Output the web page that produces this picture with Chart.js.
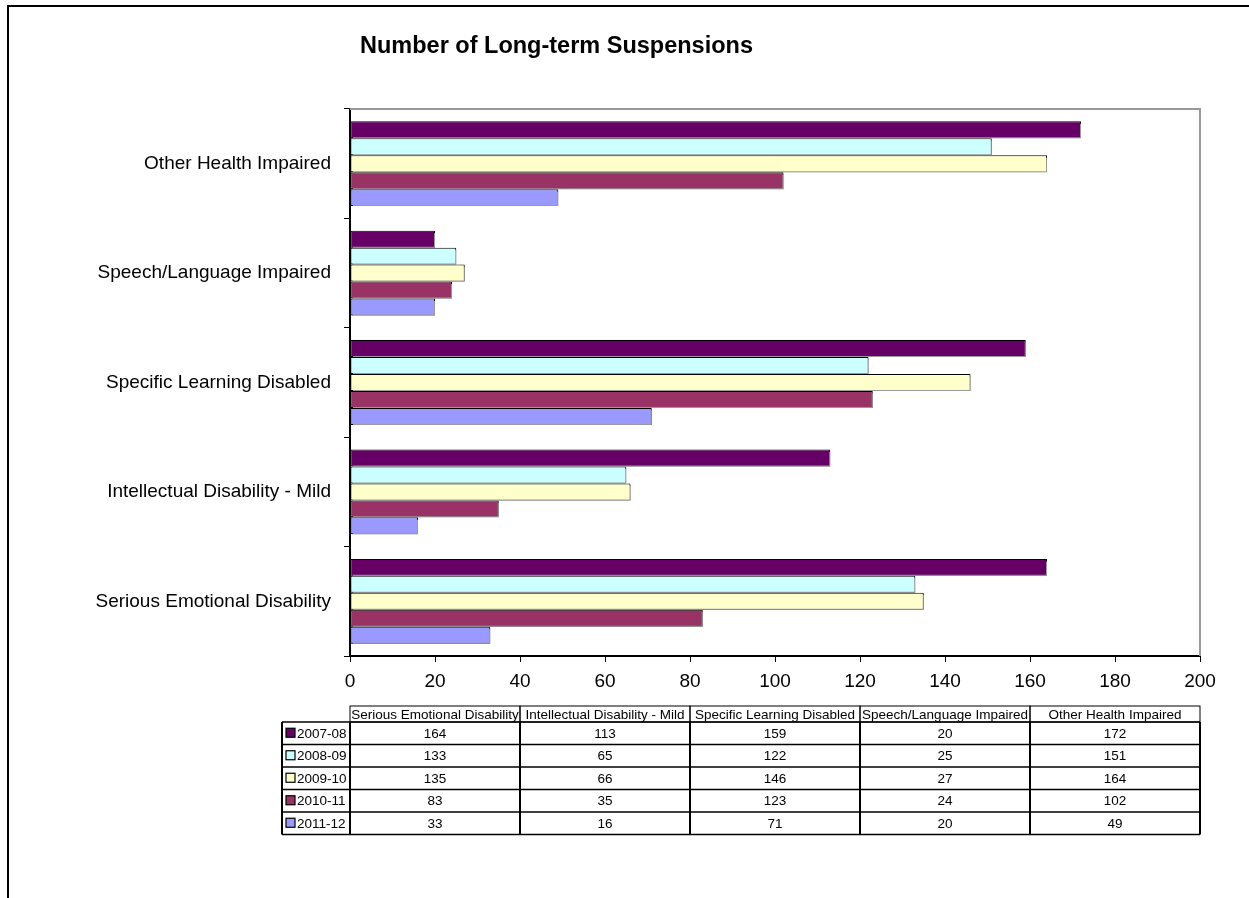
<!DOCTYPE html>
<html>
<head>
<meta charset="utf-8">
<script src="https://cdn.jsdelivr.net/npm/chart.js@4"></script>
<style>
  html, body { margin: 0; padding: 0; background: #fff; }
  #wrap { position: relative; width: 1249px; height: 898px; overflow: hidden; }
</style>
</head>
<body>
<div id="wrap"><canvas id="chart" width="1249" height="898"></canvas></div>
<script>
const chartTitle = "Number of Long-term Suspensions";
const categories = ["Serious Emotional Disability", "Intellectual Disability - Mild", "Specific Learning Disabled", "Speech/Language Impaired", "Other Health Impaired"];
const years = ["2007-08", "2008-09", "2009-10", "2010-11", "2011-12"];
const colors = ["#660066", "#CCFFFF", "#FFFFCC", "#993366", "#9999FF"];

const v2007 = [164, 113, 159, 20, 172];
const v2008 = [133, 65, 122, 25, 151];
const v2009 = [135, 66, 146, 27, 164];
const v2010 = [83, 35, 123, 24, 102];
const v2011 = [33, 16, 71, 20, 49];
const series = [v2007, v2008, v2009, v2010, v2011];

const xTicks = [0, 20, 40, 60, 80, 100, 120, 140, 160, 180, 200];

const FONT = "'Liberation Sans', Arial, sans-serif";

// frame, title, plot border and data table
const extras = {
    id: "extras",
    beforeDraw(chart) {
        const c = chart.ctx;
        c.save();
        c.strokeStyle = "#000";
        c.lineWidth = 2;
        c.beginPath();
        c.moveTo(8, 900);
        c.lineTo(8, 6);
        c.lineTo(1260, 6);
        c.stroke();
        c.restore();
    },
    // little gray drop shadow under the bars, like the original
    beforeDatasetsDraw(chart) {
        const c = chart.ctx;
        c.save();
        c.shadowColor = "#999";
        c.shadowOffsetX = 1.5;
        c.shadowOffsetY = 1.5;
        c.shadowBlur = 0;
    },
    afterDatasetsDraw(chart) {
        chart.ctx.restore();
    },
    afterDraw(chart) {
        const c = chart.ctx;
        const a = chart.chartArea;
        c.save();

        // title
        c.fillStyle = "#000";
        c.font = "bold 23.5px " + FONT;
        c.textAlign = "left";
        c.textBaseline = "middle";
        c.fillText(chartTitle, a.left + 10, 47);

        // gray top/right plot border
        c.strokeStyle = "#999";
        c.lineWidth = 2;
        c.beginPath();
        c.moveTo(a.left, a.top);
        c.lineTo(a.right, a.top);
        c.lineTo(a.right, a.bottom);
        c.stroke();

        // data table
        const colW = (a.right - a.left) / categories.length;
        const firstX = 282;
        const headTop = 706, headBot = 722;
        const rowH = 22.5;
        const tblBot = headBot + rowH * years.length;

        c.font = "13.5px " + FONT;
        c.textAlign = "center";
        c.textBaseline = "middle";
        c.strokeStyle = "#000";

        // header cells
        c.lineWidth = 1;
        for (let i = 0; i < categories.length; i++) {
            const x = a.left + i * colW;
            c.strokeRect(x, headTop, colW, headBot - headTop);
            c.fillText(categories[i], x + colW / 2, (headTop + headBot) / 2 + 1);
        }

        // row lines
        c.lineWidth = 1.5;
        for (let r = 0; r <= years.length; r++) {
            const y = headBot + r * rowH;
            c.beginPath();
            c.moveTo(firstX, y);
            c.lineTo(a.right, y);
            c.stroke();
        }
        // column lines
        c.lineWidth = 2;
        const vx = [firstX];
        for (let i = 0; i <= categories.length; i++) vx.push(a.left + i * colW);
        vx.forEach(x => {
            c.beginPath();
            c.moveTo(x, headBot);
            c.lineTo(x, tblBot);
            c.stroke();
        });

        // values + legend keys
        years.forEach((yr, r) => {
            const cy = headBot + r * rowH + rowH / 2;
            c.fillStyle = colors[r];
            c.fillRect(286, cy - 5, 9, 9);
            c.lineWidth = 1.2;
            c.strokeRect(286, cy - 5, 9, 9);
            c.fillStyle = "#000";
            c.textAlign = "left";
            c.fillText(yr, 297, cy + 1);
            c.textAlign = "center";
            series[r].forEach((v, i) => {
                c.fillText(String(v), a.left + i * colW + colW / 2, cy + 1);
            });
        });

        c.restore();
    }
};

new Chart(document.getElementById("chart"), {
    type: "bar",
    data: {
        labels: categories,
        datasets: years.map((yr, i) => ({
            label: yr,
            data: series[i],
            backgroundColor: colors[i],
            borderColor: "#000",
            borderWidth: 1,
            borderSkipped: false,
            categoryPercentage: 0.775,
            barPercentage: 1.0
        }))
    },
    options: {
        indexAxis: "y",
        responsive: false,
        animation: false,
        layout: { padding: { left: 0, top: 109, right: 49, bottom: 0 } },
        plugins: {
            legend: { display: false },
            tooltip: { enabled: false },
            title: { display: false }
        },
        scales: {
            y: {
                reverse: true,
                afterFit: s => { s.width = 350; },
                grid: { drawOnChartArea: false, tickLength: 6, color: "#000", offset: true },
                border: { color: "#000", width: 2 },
                ticks: { color: "#000", font: { family: FONT, size: 19 }, padding: 13 }
            },
            x: {
                min: 0,
                max: 200,
                afterFit: s => { s.height = 242; },
                afterBuildTicks: s => { s.ticks = xTicks.map(v => ({ value: v })); },
                grid: { drawOnChartArea: false, tickLength: 6, color: "#000" },
                border: { color: "#000", width: 2 },
                ticks: { color: "#000", font: { family: FONT, size: 19 }, padding: 8, maxRotation: 0 }
            }
        }
    },
    plugins: [extras]
});
</script>
</body>
</html>
